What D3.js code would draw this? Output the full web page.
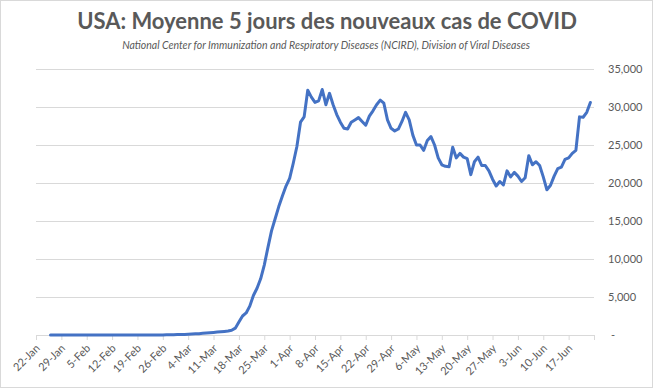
<!DOCTYPE html>
<html><head><meta charset="utf-8">
<script src="https://cdn.jsdelivr.net/npm/d3@7"></script>
<style>body{margin:0;background:#fff}svg{display:block}</style>
</head><body>
<script>
const titleText = "USA: Moyenne 5 jours des nouveaux cas de COVID";
const subtitleText = "National Center for Immunization and Respiratory Diseases (NCIRD), Division of Viral Diseases";

// first day of the 5-day average series (one value per day)
const firstDataDate = "26-Jan";
const values = [
  1,1,1,1,1,1,1,1,1,1,1,1,1,1,1,1,1,1,1,1,2,2,3,3,3,3,4,
  5,6,8,10,14,20,28,38,50,65,80,
  100,120,150,180,220,260,300,340,380,420,470,520,620,
  900,1700,2500,2900,3800,5200,6150,7400,9200,11500,13700,15300,16900,18300,19600,20600,22600,24800,28000,28700,
  32200,31300,30600,30800,32300,30300,31800,30300,29000,28000,27200,27100,28000,28300,28600,28100,27600,28800,29500,30300,
  30900,30500,28300,27200,26850,27100,28100,29300,28300,26300,25000,25000,24300,25600,26100,25000,23300,22400,
  22200,22150,24700,23300,23900,23400,23200,21100,22800,23400,22300,22300,21600,20500,19600,20200,19750,21600,20800,21400,
  20900,20200,20700,23600,22400,22800,22300,20800,19100,19700,20900,21900,22100,23100,23300,23900,24300,28700,28650,29300,30600
];
const xTickLabels = ["22-Jan","29-Jan","5-Feb","12-Feb","19-Feb","26-Feb","4-Mar","11-Mar","18-Mar","25-Mar","1-Apr","8-Apr","15-Apr","22-Apr","29-Apr","6-May","13-May","20-May","27-May","3-Jun","10-Jun","17-Jun"];
const xAxisEnd = "24-Jun";
const yTicks = [0,5000,10000,15000,20000,25000,30000,35000];

const W = 653, H = 389;
const parse = s => d3.timeParse("%d-%b-%Y")(s + "-2020");
const start = parse(firstDataDate);
const data = values.map((v, i) => ({date: d3.timeDay.offset(start, i), value: v}));
const tickDates = xTickLabels.map(parse);
const endDate = parse(xAxisEnd);

const svg = d3.select("body").append("svg").attr("width", W).attr("height", H);
svg.append("rect").attr("x", 0.5).attr("y", 0.5).attr("width", W - 1).attr("height", H - 2)
  .attr("fill", "#fff").attr("stroke", "#d9d9d9");

const x = d3.scaleTime().domain([tickDates[0], endDate]).range([36, 594]);
const y = d3.scaleLinear().domain([0, 35000]).range([335, 69]);

const font = "Lato, 'Open Sans', sans-serif";
const txt = "#595959";

// gridlines + right labels
const yAxis = svg.append("g").attr("transform", "translate(594,0)")
  .call(d3.axisRight(y).tickValues(yTicks).tickSize(-558).tickPadding(14)
    .tickFormat(d => d === 0 ? "-" : d3.format(",")(d)));
yAxis.select(".domain").remove();
yAxis.selectAll("line").attr("stroke", "#d9d9d9");
yAxis.selectAll("text").attr("fill", txt).style("font-family", font).style("font-size", "11px")
  .attr("dx", d => d === 0 ? 3 : 0);

// x axis
const xAxis = svg.append("g").attr("transform", "translate(0,335)")
  .call(d3.axisBottom(x).tickValues(tickDates.concat([endDate])).tickSize(5)
    .tickFormat((d, i) => i < xTickLabels.length ? xTickLabels[i] : ""));
xAxis.select(".domain").attr("stroke", "#d9d9d9");
xAxis.selectAll("line").attr("stroke", "#d9d9d9");
xAxis.selectAll("text").attr("fill", txt).style("font-family", font).style("font-size", "11px")
  .attr("text-anchor", "end").attr("x", 0).attr("y", 0).attr("dy", 0)
  .attr("transform", "translate(4,14) rotate(-45)");

// line
svg.append("path").datum(data)
  .attr("fill", "none").attr("stroke", "#4472C4").attr("stroke-width", 3)
  .attr("stroke-linejoin", "round").attr("stroke-linecap", "round")
  .attr("d", d3.line().x(d => x(d.date)).y(d => y(d.value)));

// titles
function fit(sel, target, base) {
  sel.attr("font-size", base);
  const w = sel.node().getComputedTextLength();
  sel.attr("font-size", base * target / w);
}
const t = svg.append("text").attr("x", 327).attr("y", 29).attr("text-anchor", "middle")
  .attr("fill", txt).style("font-family", font).attr("font-weight", "bold").text(titleText);
fit(t, 500, 22);
const st = svg.append("text").attr("x", 326).attr("y", 49).attr("text-anchor", "middle")
  .attr("fill", txt).style("font-family", font).attr("font-style", "italic").text(subtitleText);
fit(st, 408, 10);
</script>
</body></html>
